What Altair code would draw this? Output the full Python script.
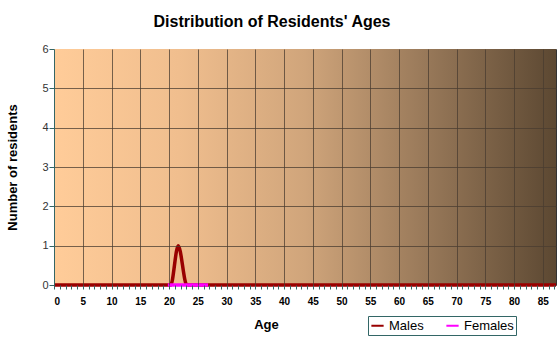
import altair as alt
import pandas as pd

# ---- data ----
male_ages = [0, 5, 10, 15, 20, 20.3, 21.6, 23.1, 25, 30, 40, 50, 60, 70, 80, 87.3]
male_counts = [0, 0, 0, 0, 0, 0, 1, 0, 0, 0, 0, 0, 0, 0, 0, 0]
female_ages = [19.8, 21, 22, 23, 24, 25, 26, 26.8]
female_counts = [0, 0, 0, 0, 0, 0, 0, 0]

x_ticks = list(range(0, 88))
y_ticks = [0, 1, 2, 3, 4, 5, 6]
x_range = [0, 87.3]
y_range = [0, 6]

males = pd.DataFrame({"Age": male_ages, "Residents": male_counts, "Sex": "Males"})
females = pd.DataFrame({"Age": female_ages, "Residents": female_counts, "Sex": "Females"})
data = pd.concat([males, females], ignore_index=True)
data["order"] = data["Sex"].map({"Males": 0, "Females": 1})

bg = pd.DataFrame({"x0": [x_range[0]], "x1": [x_range[1]], "y0": [y_range[0]], "y1": [y_range[1]]})

FONT = "Liberation Sans"

color_scale = alt.Scale(domain=["Males", "Females"], range=["#990000", "#FF00FF"])
x_scale = alt.Scale(domain=x_range, nice=False, zero=False)
y_scale = alt.Scale(domain=y_range, nice=False)

x_axis = alt.Axis(
    values=x_ticks,
    labelExpr="datum.value % 5 === 0 ? datum.label : ''",
    labelOverlap=False,
    labelFont=FONT,
    labelFontSize=10,
    labelFontWeight="bold",
    labelColor="#000000",
    labelPadding=7,
    tickSize=4,
    tickColor="#336666",
    domain=False,
    grid=True,
    gridColor="#4a3c30",
    gridOpacity={"condition": {"test": "datum.value % 5 === 0 && datum.value > 0", "value": 0.75}, "value": 0},
    gridWidth=1,
    zindex=1,
    title="Age",
    titleFont=FONT,
    titleFontSize=13,
    titleFontWeight="bold",
    titleX=212,
    titleY=39,
    titleAlign="center",
    titleBaseline="middle",
)

y_axis = alt.Axis(
    values=y_ticks,
    labelFont=FONT,
    labelFontSize=11,
    labelColor="#333333",
    labelPadding=1,
    tickSize=5,
    tickColor="#336666",
    domainColor="#336666",
    grid=True,
    gridColor="#4a3c30",
    gridOpacity={"condition": {"test": "datum.value > 0 && datum.value < 6", "value": 0.75}, "value": 0},
    zindex=1,
    title="Number of residents",
    titleFont=FONT,
    titleFontSize=13,
    titleFontWeight="bold",
    titleX=-42,
    titleY=118,
    titleAngle=270,
    titleAlign="center",
    titleBaseline="middle",
)

gradient = alt.Gradient(
    gradient="linear",
    x1=0, y1=0, x2=1, y2=0,
    stops=[
        alt.GradientStop(offset=0.0, color="#FFCC99"),
        alt.GradientStop(offset=0.25, color="#F0BE8E"),
        alt.GradientStop(offset=0.5, color="#D0A57B"),
        alt.GradientStop(offset=0.75, color="#967758"),
        alt.GradientStop(offset=1.0, color="#5C4832"),
    ],
)

background = alt.Chart(bg).mark_rect(color=gradient).encode(
    x=alt.X("x0:Q", scale=x_scale, axis=x_axis),
    x2="x1:Q",
    y=alt.Y("y0:Q", scale=y_scale, axis=y_axis),
    y2="y1:Q",
)

lines = (
    alt.Chart(data)
    .mark_line(strokeWidth=3.5, interpolate="monotone", clip=False)
    .encode(
        x=alt.X("Age:Q", scale=x_scale, axis=x_axis),
        y=alt.Y("Residents:Q", scale=y_scale, axis=y_axis),
        color=alt.Color(
            "Sex:N",
            scale=color_scale,
            sort=["Males", "Females"],
            legend=alt.Legend(
                title=None,
                orient="none",
                legendX=314,
                legendY=267,
                direction="horizontal",
                symbolType="stroke",
                symbolStrokeWidth=2,
                symbolSize=150,
                labelFont=FONT,
                labelFontSize=13,
                labelColor="#000000",
                strokeColor="#336666",
                padding=2,
                columnPadding=18,
                symbolOffset=0,
            ),
        ),
        order="order:Q",
        detail="Sex:N",
    )
)

chart = (
    alt.layer(background, lines)
    .properties(
        width=502,
        height=236,
        autosize=alt.AutoSizeParams(type="none"),
        padding={"left": 54, "top": 49, "right": 4, "bottom": 68},
        title=alt.TitleParams(
            "Distribution of Residents' Ages",
            font=FONT,
            fontSize=16,
            fontWeight="bold",
            color="#000000",
            anchor="middle",
            dx=-33,
            offset=13,
        ),
    )
    .configure(background="#FFFFFF")
    .configure_view(stroke="#333333", strokeWidth=1)
)

chart.save("out.html", embed_options={"renderer": "svg", "actions": False})
